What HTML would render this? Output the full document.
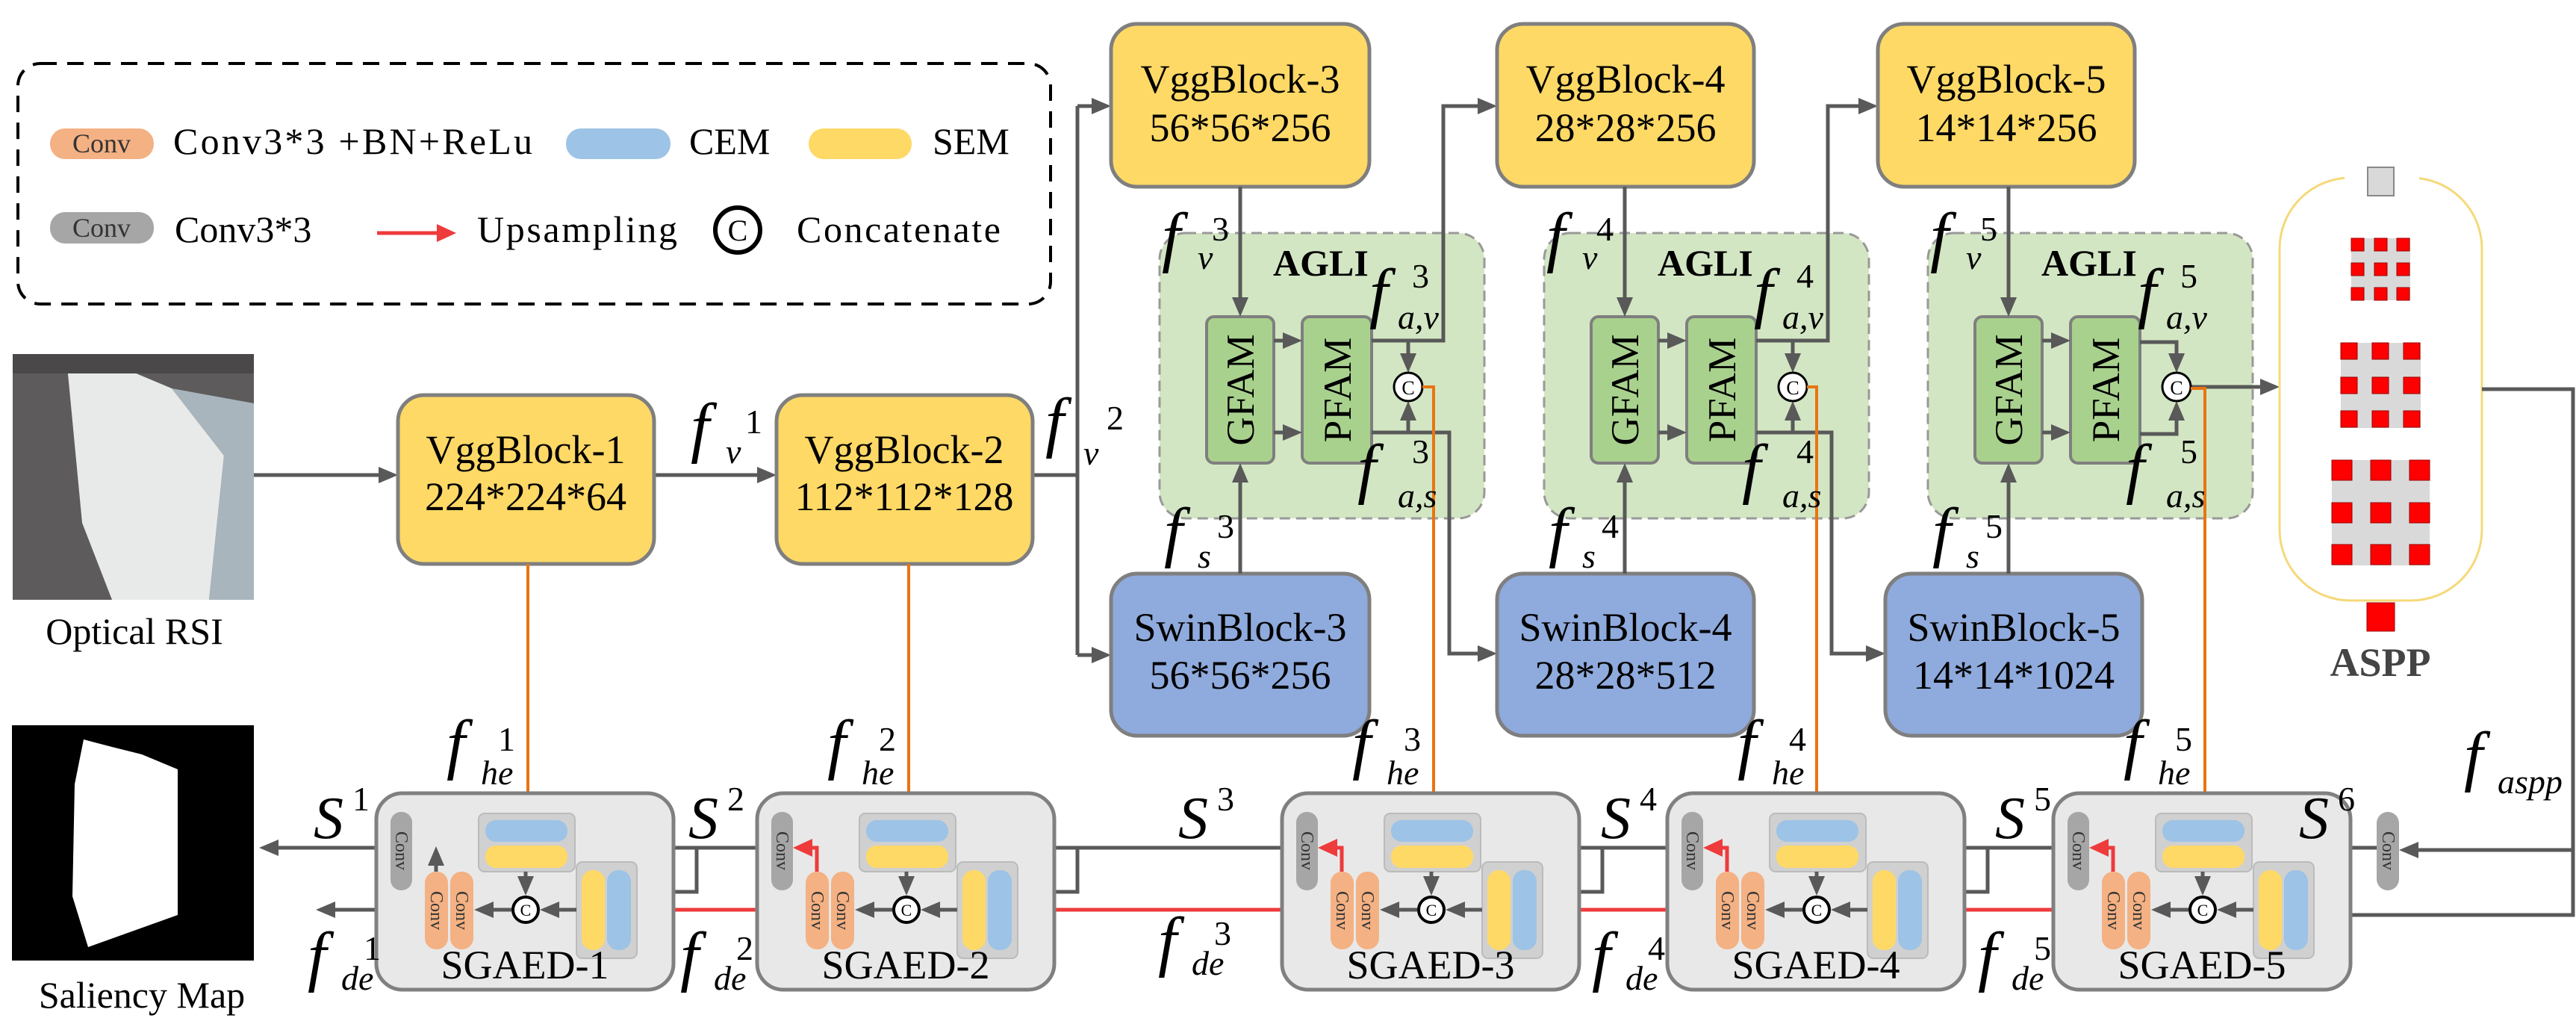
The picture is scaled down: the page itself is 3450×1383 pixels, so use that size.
<!DOCTYPE html>
<html><head><meta charset="utf-8"><style>
html,body{margin:0;padding:0;background:#fff;}
svg{display:block;font-family:"Liberation Serif","DejaVu Serif","Times New Roman",serif;}
text{font-family:"Liberation Serif","DejaVu Serif","Times New Roman",serif;}
.m{font-style:italic;}
</style></head><body>
<svg width="3450" height="1383" viewBox="0 0 3450 1383" xmlns="http://www.w3.org/2000/svg" xmlns:xlink="http://www.w3.org/1999/xlink" font-family="Liberation Serif, DejaVu Serif, serif">
<defs>
<path id="hg" d="M-26,-11 L0,0 L-26,11 Z" fill="#595959"/>
<path id="hr" d="M-26,-12 L0,0 L-26,12 Z" fill="#EE3B3B"/>
<path id="ho" d="M-24,-10 L0,0 L-24,10 Z" fill="#E87511"/>
</defs>

<!-- Legend -->
<rect x="24" y="85" width="1383" height="322" rx="30" fill="none" stroke="#000" stroke-width="4" stroke-dasharray="22,14"/>
<rect x="67" y="172" width="139" height="41" rx="20" fill="#F4B183"/>
<text x="136" y="204" font-size="36" text-anchor="middle" fill="#333">Conv</text>
<text x="232" y="206" font-size="50" textLength="481">Conv3*3 +BN+ReLu</text>
<rect x="758" y="172" width="140" height="41" rx="20" fill="#9DC3E6"/>
<text x="923" y="206" font-size="50">CEM</text>
<rect x="1083" y="172" width="138" height="41" rx="20" fill="#FFD966"/>
<text x="1249" y="206" font-size="50">SEM</text>
<rect x="67" y="284" width="139" height="42" rx="20" fill="#A6A6A6"/>
<text x="136" y="317" font-size="36" text-anchor="middle" fill="#333">Conv</text>
<text x="234" y="324" font-size="50">Conv3*3</text>
<line x1="505" y1="312" x2="595" y2="312" stroke="#EE3B3B" stroke-width="5"/>
<use xlink:href="#hr" href="#hr" transform="translate(611,312)"/>
<text x="639" y="324" font-size="50" textLength="268">Upsampling</text>
<circle cx="988" cy="308" r="30" fill="#fff" stroke="#000" stroke-width="6"/>
<text x="988" y="322" font-size="40" text-anchor="middle">C</text>
<text x="1067" y="324" font-size="50" textLength="273">Concatenate</text>

<!-- Optical RSI -->
<rect x="17" y="474" width="323" height="329" fill="#5d5b5b"/>
<path d="M90,490 L130,478 L230,520 L300,610 L280,803 L150,803 L110,700 Z" fill="#e8eaea"/>
<path d="M230,520 L340,540 L340,803 L280,803 L300,610 Z" fill="#a9b5bd"/>
<path d="M17,474 L340,474 L340,500 L17,500 Z" fill="#4a4848"/>
<text x="180" y="862" font-size="50" text-anchor="middle">Optical RSI</text>

<!-- Saliency map -->
<rect x="16" y="971" width="324" height="315" fill="#000"/>
<path d="M112,990 L150,1000 L190,1010 L238,1030 L238,1225 L118,1268 L97,1200 L100,1050 Z" fill="#fff"/>
<text x="190" y="1349" font-size="50" text-anchor="middle">Saliency Map</text>

<!-- Vgg 1,2 -->
<g stroke="#595959" stroke-width="5" fill="none">
<line x1="340" y1="636" x2="520" y2="636"/>
<line x1="876" y1="636" x2="1027" y2="636"/>
<polyline points="1383,636 1443,636"/>
<line x1="1443" y1="142" x2="1443" y2="877"/>
<line x1="1443" y1="142" x2="1475" y2="142"/>
<line x1="1443" y1="877" x2="1475" y2="877"/>
</g>
<use href="#hg" xlink:href="#hg" transform="translate(533,636)"/>
<use href="#hg" xlink:href="#hg" transform="translate(1040,636)"/>
<use href="#hg" xlink:href="#hg" transform="translate(1488,142)"/>
<use href="#hg" xlink:href="#hg" transform="translate(1488,877)"/>
<rect x="533" y="529" width="343" height="226" rx="35" fill="#FFD966" stroke="#7F7F7F" stroke-width="5"/>
<text x="704" y="620" font-size="54" text-anchor="middle">VggBlock-1</text>
<text x="704" y="683" font-size="54" text-anchor="middle">224*224*64</text>
<rect x="1040" y="529" width="343" height="226" rx="35" fill="#FFD966" stroke="#7F7F7F" stroke-width="5"/>
<text x="1211" y="620" font-size="54" text-anchor="middle">VggBlock-2</text>
<text x="1211" y="683" font-size="54" text-anchor="middle">112*112*128</text>
<line x1="707" y1="755" x2="707" y2="1075" stroke="#E87511" stroke-width="4"/>
<line x1="1217" y1="755" x2="1217" y2="1075" stroke="#E87511" stroke-width="4"/>
<use href="#ho" xlink:href="#ho" transform="translate(707,1089) rotate(90)"/>
<use href="#ho" xlink:href="#ho" transform="translate(1217,1089) rotate(90)"/>
<text class="m" x="925" y="602" font-size="90">f</text><text class="m" x="972" y="620" font-size="46">v</text><text x="998" y="580" font-size="46">1</text>
<text class="m" x="1400" y="595" font-size="90">f</text><text class="m" x="1451" y="622" font-size="46">v</text><text x="1482" y="575" font-size="46">2</text>

<!-- Module 3 -->
<g>
<rect x="1553" y="312" width="435" height="382" rx="35" fill="#D3E6C4" stroke="#999" stroke-width="3" stroke-dasharray="14,8"/>
<rect x="1488" y="32" width="346" height="218" rx="35" fill="#FFD966" stroke="#7F7F7F" stroke-width="5"/>
<rect x="1488" y="768" width="346" height="217" rx="35" fill="#8FAADC" stroke="#7F7F7F" stroke-width="5"/>
<rect x="1616" y="424" width="90" height="196" rx="10" fill="#A9D18E" stroke="#7F7F7F" stroke-width="4"/>
<rect x="1744" y="424" width="93" height="196" rx="10" fill="#A9D18E" stroke="#7F7F7F" stroke-width="4"/>
<text transform="translate(1679,522) rotate(-90)" font-size="53" text-anchor="middle">GFAM</text>
<text transform="translate(1809,522) rotate(-90)" font-size="53" text-anchor="middle">PFAM</text>
<text x="1705" y="369" font-size="50" font-weight="bold">AGLI</text>
<g stroke="#595959" stroke-width="5" fill="none">
<line x1="1661" y1="250" x2="1661" y2="410"/>
<line x1="1661" y1="768" x2="1661" y2="634"/>
<line x1="1706" y1="456" x2="1730" y2="456"/>
<line x1="1706" y1="579" x2="1730" y2="579"/>
<polyline points="1837,456 1886,456 1886,485"/>
<polyline points="1837,579 1886,579 1886,551"/>
<polyline points="1886,456 1933,456 1933,142 1992,142"/>
<polyline points="1886,579 1941,579 1941,875 1992,875"/>
</g>
<use href="#hg" xlink:href="#hg" transform="translate(1661,424) rotate(90)"/>
<use href="#hg" xlink:href="#hg" transform="translate(1661,620) rotate(-90)"/>
<use href="#hg" xlink:href="#hg" transform="translate(1744,456)"/>
<use href="#hg" xlink:href="#hg" transform="translate(1744,579)"/>
<use href="#hg" xlink:href="#hg" transform="translate(1886,499) rotate(90)"/>
<use href="#hg" xlink:href="#hg" transform="translate(1886,537) rotate(-90)"/>
<use href="#hg" xlink:href="#hg" transform="translate(2005,142)"/>
<use href="#hg" xlink:href="#hg" transform="translate(2005,875)"/>
<circle cx="1886" cy="518" r="19" fill="#fff" stroke="#000" stroke-width="3"/>
<text x="1886" y="528" font-size="26" text-anchor="middle">C</text>
<polyline points="1905,518 1920,518 1920,1075" fill="none" stroke="#E87511" stroke-width="4"/>
<use href="#ho" xlink:href="#ho" transform="translate(1920,1089) rotate(90)"/>
<text class="m" x="1556" y="347" font-size="90">f</text><text class="m" x="1604" y="360" font-size="46">v</text><text x="1623" y="322" font-size="46">3</text>
<text class="m" x="1559" y="742" font-size="90">f</text><text class="m" x="1604" y="760" font-size="46">s</text><text x="1630" y="720" font-size="46">3</text>
<text class="m" x="1834" y="422" font-size="90">f</text><text class="m" x="1872" y="440" font-size="46">a,v</text><text x="1891" y="385" font-size="46">3</text>
<text class="m" x="1818" y="657" font-size="90">f</text><text class="m" x="1872" y="679" font-size="46">a,s</text><text x="1891" y="620" font-size="46">3</text>
<text x="1661" y="124" font-size="54" text-anchor="middle">VggBlock-3</text>
<text x="1661" y="189" font-size="54" text-anchor="middle">56*56*256</text>
<text x="1661" y="858" font-size="54" text-anchor="middle">SwinBlock-3</text>
<text x="1661" y="922" font-size="54" text-anchor="middle">56*56*256</text>
</g>

<!-- Module 4 -->
<g transform="translate(515,0)">
<rect x="1553" y="312" width="435" height="382" rx="35" fill="#D3E6C4" stroke="#999" stroke-width="3" stroke-dasharray="14,8"/>
<rect x="1490" y="32" width="344" height="218" rx="35" fill="#FFD966" stroke="#7F7F7F" stroke-width="5"/>
<rect x="1490" y="768" width="344" height="217" rx="35" fill="#8FAADC" stroke="#7F7F7F" stroke-width="5"/>
<rect x="1616" y="424" width="90" height="196" rx="10" fill="#A9D18E" stroke="#7F7F7F" stroke-width="4"/>
<rect x="1744" y="424" width="93" height="196" rx="10" fill="#A9D18E" stroke="#7F7F7F" stroke-width="4"/>
<text transform="translate(1679,522) rotate(-90)" font-size="53" text-anchor="middle">GFAM</text>
<text transform="translate(1809,522) rotate(-90)" font-size="53" text-anchor="middle">PFAM</text>
<text x="1705" y="369" font-size="50" font-weight="bold">AGLI</text>
<g stroke="#595959" stroke-width="5" fill="none">
<line x1="1661" y1="250" x2="1661" y2="410"/>
<line x1="1661" y1="768" x2="1661" y2="634"/>
<line x1="1706" y1="456" x2="1730" y2="456"/>
<line x1="1706" y1="579" x2="1730" y2="579"/>
<polyline points="1837,456 1886,456 1886,485"/>
<polyline points="1837,579 1886,579 1886,551"/>
<polyline points="1886,456 1933,456 1933,142 1987,142"/>
<polyline points="1886,579 1938,579 1938,875 1997,875"/>
</g>
<use href="#hg" xlink:href="#hg" transform="translate(1661,424) rotate(90)"/>
<use href="#hg" xlink:href="#hg" transform="translate(1661,620) rotate(-90)"/>
<use href="#hg" xlink:href="#hg" transform="translate(1744,456)"/>
<use href="#hg" xlink:href="#hg" transform="translate(1744,579)"/>
<use href="#hg" xlink:href="#hg" transform="translate(1886,499) rotate(90)"/>
<use href="#hg" xlink:href="#hg" transform="translate(1886,537) rotate(-90)"/>
<use href="#hg" xlink:href="#hg" transform="translate(2000,142)"/>
<use href="#hg" xlink:href="#hg" transform="translate(2010,875)"/>
<circle cx="1886" cy="518" r="19" fill="#fff" stroke="#000" stroke-width="3"/>
<text x="1886" y="528" font-size="26" text-anchor="middle">C</text>
<polyline points="1905,518 1918,518 1918,1075" fill="none" stroke="#E87511" stroke-width="4"/>
<use href="#ho" xlink:href="#ho" transform="translate(1918,1089) rotate(90)"/>
<text x="1662" y="124" font-size="54" text-anchor="middle">VggBlock-4</text>
<text x="1662" y="189" font-size="54" text-anchor="middle">28*28*256</text>
<text x="1662" y="858" font-size="54" text-anchor="middle">SwinBlock-4</text>
<text x="1662" y="922" font-size="54" text-anchor="middle">28*28*512</text>
<text class="m" x="1556" y="347" font-size="90">f</text><text class="m" x="1604" y="360" font-size="46">v</text><text x="1623" y="322" font-size="46">4</text>
<text class="m" x="1559" y="742" font-size="90">f</text><text class="m" x="1604" y="760" font-size="46">s</text><text x="1630" y="720" font-size="46">4</text>
<text class="m" x="1834" y="422" font-size="90">f</text><text class="m" x="1872" y="440" font-size="46">a,v</text><text x="1891" y="385" font-size="46">4</text>
<text class="m" x="1818" y="657" font-size="90">f</text><text class="m" x="1872" y="679" font-size="46">a,s</text><text x="1891" y="620" font-size="46">4</text>
</g>

<!-- Module 5 -->
<g transform="translate(1029,0)">
<rect x="1553" y="312" width="435" height="382" rx="35" fill="#D3E6C4" stroke="#999" stroke-width="3" stroke-dasharray="14,8"/>
<rect x="1486" y="32" width="344" height="218" rx="35" fill="#FFD966" stroke="#7F7F7F" stroke-width="5"/>
<rect x="1496" y="768" width="344" height="217" rx="35" fill="#8FAADC" stroke="#7F7F7F" stroke-width="5"/>
<rect x="1616" y="424" width="90" height="196" rx="10" fill="#A9D18E" stroke="#7F7F7F" stroke-width="4"/>
<rect x="1744" y="424" width="93" height="196" rx="10" fill="#A9D18E" stroke="#7F7F7F" stroke-width="4"/>
<text transform="translate(1679,522) rotate(-90)" font-size="53" text-anchor="middle">GFAM</text>
<text transform="translate(1809,522) rotate(-90)" font-size="53" text-anchor="middle">PFAM</text>
<text x="1705" y="369" font-size="50" font-weight="bold">AGLI</text>
<g stroke="#595959" stroke-width="5" fill="none">
<line x1="1661" y1="250" x2="1661" y2="410"/>
<line x1="1661" y1="768" x2="1661" y2="634"/>
<line x1="1706" y1="456" x2="1730" y2="456"/>
<line x1="1706" y1="579" x2="1730" y2="579"/>
<polyline points="1837,458 1886,458 1886,485"/>
<polyline points="1837,581 1886,581 1886,551"/>
<line x1="1905" y1="518" x2="2011" y2="518"/>
</g>
<use href="#hg" xlink:href="#hg" transform="translate(1661,424) rotate(90)"/>
<use href="#hg" xlink:href="#hg" transform="translate(1661,620) rotate(-90)"/>
<use href="#hg" xlink:href="#hg" transform="translate(1744,456)"/>
<use href="#hg" xlink:href="#hg" transform="translate(1744,579)"/>
<use href="#hg" xlink:href="#hg" transform="translate(1886,499) rotate(90)"/>
<use href="#hg" xlink:href="#hg" transform="translate(1886,537) rotate(-90)"/>
<use href="#hg" xlink:href="#hg" transform="translate(2024,518)"/>
<circle cx="1886" cy="518" r="19" fill="#fff" stroke="#000" stroke-width="3"/>
<text x="1886" y="528" font-size="26" text-anchor="middle">C</text>
<polyline points="1905,520 1924,520 1924,1075" fill="none" stroke="#E87511" stroke-width="4"/>
<use href="#ho" xlink:href="#ho" transform="translate(1924,1089) rotate(90)"/>
<text x="1658" y="124" font-size="54" text-anchor="middle">VggBlock-5</text>
<text x="1658" y="189" font-size="54" text-anchor="middle">14*14*256</text>
<text x="1668" y="858" font-size="54" text-anchor="middle">SwinBlock-5</text>
<text x="1668" y="922" font-size="54" text-anchor="middle">14*14*1024</text>
<text class="m" x="1556" y="347" font-size="90">f</text><text class="m" x="1604" y="360" font-size="46">v</text><text x="1623" y="322" font-size="46">5</text>
<text class="m" x="1559" y="742" font-size="90">f</text><text class="m" x="1604" y="760" font-size="46">s</text><text x="1630" y="720" font-size="46">5</text>
<text class="m" x="1834" y="422" font-size="90">f</text><text class="m" x="1872" y="440" font-size="46">a,v</text><text x="1891" y="385" font-size="46">5</text>
<text class="m" x="1818" y="657" font-size="90">f</text><text class="m" x="1872" y="679" font-size="46">a,s</text><text x="1891" y="620" font-size="46">5</text>
</g>

<!-- ASPP -->
<rect x="3053" y="238" width="271" height="566" rx="95" fill="none" stroke="#F5D97A" stroke-width="3"/>
<rect x="3140" y="230" width="100" height="16" fill="#fff"/>
<rect x="3171" y="224" width="35" height="38" fill="#D9D9D9" stroke="#888" stroke-width="2"/>
<rect x="3149" y="319" width="79" height="83" fill="#D9D9D9"/>
<g fill="#FF0000" stroke="#900" stroke-width="1">
<rect x="3149" y="319" width="17" height="17"/><rect x="3180" y="319" width="17" height="17"/><rect x="3210" y="319" width="17" height="17"/>
<rect x="3149" y="352" width="17" height="17"/><rect x="3180" y="352" width="17" height="17"/><rect x="3210" y="352" width="17" height="17"/>
<rect x="3149" y="385" width="17" height="17"/><rect x="3180" y="385" width="17" height="17"/><rect x="3210" y="385" width="17" height="17"/>
</g>
<rect x="3135" y="459" width="107" height="114" fill="#D9D9D9"/>
<g fill="#FF0000" stroke="#900" stroke-width="1">
<rect x="3135" y="459" width="22" height="22"/><rect x="3177" y="459" width="22" height="22"/><rect x="3219" y="459" width="22" height="22"/>
<rect x="3135" y="505" width="22" height="22"/><rect x="3177" y="505" width="22" height="22"/><rect x="3219" y="505" width="22" height="22"/>
<rect x="3135" y="550" width="22" height="22"/><rect x="3177" y="550" width="22" height="22"/><rect x="3219" y="550" width="22" height="22"/>
</g>
<rect x="3123" y="616" width="131" height="141" fill="#D9D9D9"/>
<g fill="#FF0000" stroke="#900" stroke-width="1">
<rect x="3123" y="616" width="27" height="27"/><rect x="3175" y="616" width="27" height="27"/><rect x="3227" y="616" width="27" height="27"/>
<rect x="3123" y="673" width="27" height="27"/><rect x="3175" y="673" width="27" height="27"/><rect x="3227" y="673" width="27" height="27"/>
<rect x="3123" y="729" width="27" height="27"/><rect x="3175" y="729" width="27" height="27"/><rect x="3227" y="729" width="27" height="27"/>
</g>
<rect x="3170" y="807" width="37" height="38" fill="#FF0000" stroke="#900" stroke-width="1"/>
<text x="3188" y="905" font-size="54" font-weight="bold" fill="#444" text-anchor="middle">ASPP</text>

<!-- connections bottom -->
<g stroke="#595959" stroke-width="5" fill="none">
<polyline points="3324,521 3446,521 3446,1225 3112,1225"/>
<line x1="3446" y1="1138" x2="3226" y2="1138"/>
<line x1="523" y1="1135" x2="360" y2="1135"/>
<line x1="569" y1="1218" x2="436" y2="1218"/>
<line x1="1033" y1="1135" x2="783" y2="1135"/>
<polyline points="933,1135 933,1194 866,1194"/>
<line x1="1736" y1="1135" x2="1293" y2="1135"/>
<polyline points="1443,1135 1443,1194 1376,1194"/>
<line x1="2252" y1="1135" x2="1996" y2="1135"/>
<polyline points="2146,1135 2146,1194 2079,1194"/>
<line x1="2769" y1="1135" x2="2512" y2="1135"/>
<polyline points="2662,1135 2662,1194 2595,1194"/>
<line x1="3183" y1="1135" x2="3029" y2="1135"/>
<polyline points="3137,1135 3137,1194 3112,1194"/>
</g>
<use href="#hg" xlink:href="#hg" transform="translate(3099,1225) rotate(180)"/>
<use href="#hg" xlink:href="#hg" transform="translate(3213,1138) rotate(180)"/>
<use href="#hg" xlink:href="#hg" transform="translate(347,1135) rotate(180)"/>
<use href="#hg" xlink:href="#hg" transform="translate(423,1218) rotate(180)"/>
<use href="#hg" xlink:href="#hg" transform="translate(770,1135) rotate(180)"/>
<use href="#hg" xlink:href="#hg" transform="translate(853,1194) rotate(180)"/>
<use href="#hg" xlink:href="#hg" transform="translate(1280,1135) rotate(180)"/>
<use href="#hg" xlink:href="#hg" transform="translate(1363,1194) rotate(180)"/>
<use href="#hg" xlink:href="#hg" transform="translate(1983,1135) rotate(180)"/>
<use href="#hg" xlink:href="#hg" transform="translate(2066,1194) rotate(180)"/>
<use href="#hg" xlink:href="#hg" transform="translate(2499,1135) rotate(180)"/>
<use href="#hg" xlink:href="#hg" transform="translate(2582,1194) rotate(180)"/>
<use href="#hg" xlink:href="#hg" transform="translate(3016,1135) rotate(180)"/>
<use href="#hg" xlink:href="#hg" transform="translate(3099,1194) rotate(180)"/>
<g stroke="#EE3B3B" stroke-width="5" fill="none">
<line x1="1079" y1="1218" x2="866" y2="1218"/>
<line x1="1782" y1="1218" x2="1376" y2="1218"/>
<line x1="2298" y1="1218" x2="2079" y2="1218"/>
<line x1="2815" y1="1218" x2="2595" y2="1218"/>
</g>
<use href="#hr" xlink:href="#hr" transform="translate(853,1218) rotate(180)"/>
<use href="#hr" xlink:href="#hr" transform="translate(1363,1218) rotate(180)"/>
<use href="#hr" xlink:href="#hr" transform="translate(2066,1218) rotate(180)"/>
<use href="#hr" xlink:href="#hr" transform="translate(2582,1218) rotate(180)"/>
<rect x="3183" y="1087" width="30" height="105" rx="15" fill="#A6A6A6"/>
<text transform="translate(3191,1139) rotate(90)" font-size="24" text-anchor="middle" fill="#333">Conv</text>

<!-- SGAED blocks -->
<g transform="translate(504,0)">
<rect x="0" y="1062" width="398" height="263" rx="35" fill="#E8E8E8" stroke="#808080" stroke-width="5"/>
<rect x="19" y="1087" width="29" height="105" rx="14" fill="#A6A6A6"/>
<text transform="translate(26,1139) rotate(90)" font-size="24" text-anchor="middle" fill="#333">Conv</text>
<rect x="137" y="1089" width="129" height="78" rx="8" fill="#D0D0D0" stroke="#BBB" stroke-width="2"/>
<rect x="146" y="1098" width="110" height="29" rx="14" fill="#9DC3E6"/>
<rect x="146" y="1132" width="110" height="30" rx="14" fill="#FFD966"/>
<rect x="268" y="1154" width="81" height="129" rx="8" fill="#D0D0D0" stroke="#BBB" stroke-width="2"/>
<rect x="275" y="1165" width="31" height="107" rx="15" fill="#FFD966"/>
<rect x="309" y="1165" width="32" height="107" rx="15" fill="#9DC3E6"/>
<rect x="65" y="1167" width="31" height="104" rx="15" fill="#F4B183"/>
<rect x="99" y="1167" width="31" height="104" rx="15" fill="#F4B183"/>
<text transform="translate(73,1219) rotate(90)" font-size="24" text-anchor="middle" fill="#333">Conv</text>
<text transform="translate(107,1219) rotate(90)" font-size="24" text-anchor="middle" fill="#333">Conv</text>
<g stroke="#595959" stroke-width="5" fill="none">
<line x1="200" y1="1167" x2="200" y2="1186"/>
<line x1="268" y1="1218" x2="232" y2="1218"/>
<line x1="181" y1="1218" x2="144" y2="1218"/>
<line x1="80" y1="1167" x2="80" y2="1146"/>
</g>
<use href="#hg" xlink:href="#hg" transform="translate(200,1199) rotate(90)"/>
<use href="#hg" xlink:href="#hg" transform="translate(219,1218) rotate(180)"/>
<use href="#hg" xlink:href="#hg" transform="translate(131,1218) rotate(180)"/>
<use href="#hg" xlink:href="#hg" transform="translate(80,1133) rotate(-90)"/>
<circle cx="200" cy="1218" r="17" fill="#fff" stroke="#000" stroke-width="4"/>
<text x="200" y="1226" font-size="22" text-anchor="middle">C</text>
<text x="199" y="1310" font-size="54" text-anchor="middle">SGAED-1</text>
</g>

<g transform="translate(1014,0)">
<rect x="0" y="1062" width="398" height="263" rx="35" fill="#E8E8E8" stroke="#808080" stroke-width="5"/>
<rect x="19" y="1087" width="29" height="105" rx="14" fill="#A6A6A6"/>
<text transform="translate(26,1139) rotate(90)" font-size="24" text-anchor="middle" fill="#333">Conv</text>
<rect x="137" y="1089" width="129" height="78" rx="8" fill="#D0D0D0" stroke="#BBB" stroke-width="2"/>
<rect x="146" y="1098" width="110" height="29" rx="14" fill="#9DC3E6"/>
<rect x="146" y="1132" width="110" height="30" rx="14" fill="#FFD966"/>
<rect x="268" y="1154" width="81" height="129" rx="8" fill="#D0D0D0" stroke="#BBB" stroke-width="2"/>
<rect x="275" y="1165" width="31" height="107" rx="15" fill="#FFD966"/>
<rect x="309" y="1165" width="32" height="107" rx="15" fill="#9DC3E6"/>
<rect x="65" y="1167" width="31" height="104" rx="15" fill="#F4B183"/>
<rect x="99" y="1167" width="31" height="104" rx="15" fill="#F4B183"/>
<text transform="translate(73,1219) rotate(90)" font-size="24" text-anchor="middle" fill="#333">Conv</text>
<text transform="translate(107,1219) rotate(90)" font-size="24" text-anchor="middle" fill="#333">Conv</text>
<g stroke="#595959" stroke-width="5" fill="none">
<line x1="200" y1="1167" x2="200" y2="1186"/>
<line x1="268" y1="1218" x2="232" y2="1218"/>
<line x1="181" y1="1218" x2="144" y2="1218"/>
</g>
<use href="#hg" xlink:href="#hg" transform="translate(200,1199) rotate(90)"/>
<use href="#hg" xlink:href="#hg" transform="translate(219,1218) rotate(180)"/>
<use href="#hg" xlink:href="#hg" transform="translate(131,1218) rotate(180)"/>
<polyline points="80,1167 80,1135 61,1135" fill="none" stroke="#EE3B3B" stroke-width="5"/>
<use href="#hr" xlink:href="#hr" transform="translate(48,1135) rotate(180)"/>
<circle cx="200" cy="1218" r="17" fill="#fff" stroke="#000" stroke-width="4"/>
<text x="200" y="1226" font-size="22" text-anchor="middle">C</text>
<text x="199" y="1310" font-size="54" text-anchor="middle">SGAED-2</text>
</g>

<g transform="translate(1717,0)">
<rect x="0" y="1062" width="398" height="263" rx="35" fill="#E8E8E8" stroke="#808080" stroke-width="5"/>
<rect x="19" y="1087" width="29" height="105" rx="14" fill="#A6A6A6"/>
<text transform="translate(26,1139) rotate(90)" font-size="24" text-anchor="middle" fill="#333">Conv</text>
<rect x="137" y="1089" width="129" height="78" rx="8" fill="#D0D0D0" stroke="#BBB" stroke-width="2"/>
<rect x="146" y="1098" width="110" height="29" rx="14" fill="#9DC3E6"/>
<rect x="146" y="1132" width="110" height="30" rx="14" fill="#FFD966"/>
<rect x="268" y="1154" width="81" height="129" rx="8" fill="#D0D0D0" stroke="#BBB" stroke-width="2"/>
<rect x="275" y="1165" width="31" height="107" rx="15" fill="#FFD966"/>
<rect x="309" y="1165" width="32" height="107" rx="15" fill="#9DC3E6"/>
<rect x="65" y="1167" width="31" height="104" rx="15" fill="#F4B183"/>
<rect x="99" y="1167" width="31" height="104" rx="15" fill="#F4B183"/>
<text transform="translate(73,1219) rotate(90)" font-size="24" text-anchor="middle" fill="#333">Conv</text>
<text transform="translate(107,1219) rotate(90)" font-size="24" text-anchor="middle" fill="#333">Conv</text>
<g stroke="#595959" stroke-width="5" fill="none">
<line x1="200" y1="1167" x2="200" y2="1186"/>
<line x1="268" y1="1218" x2="232" y2="1218"/>
<line x1="181" y1="1218" x2="144" y2="1218"/>
</g>
<use href="#hg" xlink:href="#hg" transform="translate(200,1199) rotate(90)"/>
<use href="#hg" xlink:href="#hg" transform="translate(219,1218) rotate(180)"/>
<use href="#hg" xlink:href="#hg" transform="translate(131,1218) rotate(180)"/>
<polyline points="80,1167 80,1135 61,1135" fill="none" stroke="#EE3B3B" stroke-width="5"/>
<use href="#hr" xlink:href="#hr" transform="translate(48,1135) rotate(180)"/>
<circle cx="200" cy="1218" r="17" fill="#fff" stroke="#000" stroke-width="4"/>
<text x="200" y="1226" font-size="22" text-anchor="middle">C</text>
<text x="199" y="1310" font-size="54" text-anchor="middle">SGAED-3</text>
</g>

<g transform="translate(2233,0)">
<rect x="0" y="1062" width="398" height="263" rx="35" fill="#E8E8E8" stroke="#808080" stroke-width="5"/>
<rect x="19" y="1087" width="29" height="105" rx="14" fill="#A6A6A6"/>
<text transform="translate(26,1139) rotate(90)" font-size="24" text-anchor="middle" fill="#333">Conv</text>
<rect x="137" y="1089" width="129" height="78" rx="8" fill="#D0D0D0" stroke="#BBB" stroke-width="2"/>
<rect x="146" y="1098" width="110" height="29" rx="14" fill="#9DC3E6"/>
<rect x="146" y="1132" width="110" height="30" rx="14" fill="#FFD966"/>
<rect x="268" y="1154" width="81" height="129" rx="8" fill="#D0D0D0" stroke="#BBB" stroke-width="2"/>
<rect x="275" y="1165" width="31" height="107" rx="15" fill="#FFD966"/>
<rect x="309" y="1165" width="32" height="107" rx="15" fill="#9DC3E6"/>
<rect x="65" y="1167" width="31" height="104" rx="15" fill="#F4B183"/>
<rect x="99" y="1167" width="31" height="104" rx="15" fill="#F4B183"/>
<text transform="translate(73,1219) rotate(90)" font-size="24" text-anchor="middle" fill="#333">Conv</text>
<text transform="translate(107,1219) rotate(90)" font-size="24" text-anchor="middle" fill="#333">Conv</text>
<g stroke="#595959" stroke-width="5" fill="none">
<line x1="200" y1="1167" x2="200" y2="1186"/>
<line x1="268" y1="1218" x2="232" y2="1218"/>
<line x1="181" y1="1218" x2="144" y2="1218"/>
</g>
<use href="#hg" xlink:href="#hg" transform="translate(200,1199) rotate(90)"/>
<use href="#hg" xlink:href="#hg" transform="translate(219,1218) rotate(180)"/>
<use href="#hg" xlink:href="#hg" transform="translate(131,1218) rotate(180)"/>
<polyline points="80,1167 80,1135 61,1135" fill="none" stroke="#EE3B3B" stroke-width="5"/>
<use href="#hr" xlink:href="#hr" transform="translate(48,1135) rotate(180)"/>
<circle cx="200" cy="1218" r="17" fill="#fff" stroke="#000" stroke-width="4"/>
<text x="200" y="1226" font-size="22" text-anchor="middle">C</text>
<text x="199" y="1310" font-size="54" text-anchor="middle">SGAED-4</text>
</g>

<g transform="translate(2750,0)">
<rect x="0" y="1062" width="398" height="263" rx="35" fill="#E8E8E8" stroke="#808080" stroke-width="5"/>
<rect x="19" y="1087" width="29" height="105" rx="14" fill="#A6A6A6"/>
<text transform="translate(26,1139) rotate(90)" font-size="24" text-anchor="middle" fill="#333">Conv</text>
<rect x="137" y="1089" width="129" height="78" rx="8" fill="#D0D0D0" stroke="#BBB" stroke-width="2"/>
<rect x="146" y="1098" width="110" height="29" rx="14" fill="#9DC3E6"/>
<rect x="146" y="1132" width="110" height="30" rx="14" fill="#FFD966"/>
<rect x="268" y="1154" width="81" height="129" rx="8" fill="#D0D0D0" stroke="#BBB" stroke-width="2"/>
<rect x="275" y="1165" width="31" height="107" rx="15" fill="#FFD966"/>
<rect x="309" y="1165" width="32" height="107" rx="15" fill="#9DC3E6"/>
<rect x="65" y="1167" width="31" height="104" rx="15" fill="#F4B183"/>
<rect x="99" y="1167" width="31" height="104" rx="15" fill="#F4B183"/>
<text transform="translate(73,1219) rotate(90)" font-size="24" text-anchor="middle" fill="#333">Conv</text>
<text transform="translate(107,1219) rotate(90)" font-size="24" text-anchor="middle" fill="#333">Conv</text>
<g stroke="#595959" stroke-width="5" fill="none">
<line x1="200" y1="1167" x2="200" y2="1186"/>
<line x1="268" y1="1218" x2="232" y2="1218"/>
<line x1="181" y1="1218" x2="144" y2="1218"/>
</g>
<use href="#hg" xlink:href="#hg" transform="translate(200,1199) rotate(90)"/>
<use href="#hg" xlink:href="#hg" transform="translate(219,1218) rotate(180)"/>
<use href="#hg" xlink:href="#hg" transform="translate(131,1218) rotate(180)"/>
<polyline points="80,1167 80,1135 61,1135" fill="none" stroke="#EE3B3B" stroke-width="5"/>
<use href="#hr" xlink:href="#hr" transform="translate(48,1135) rotate(180)"/>
<circle cx="200" cy="1218" r="17" fill="#fff" stroke="#000" stroke-width="4"/>
<text x="200" y="1226" font-size="22" text-anchor="middle">C</text>
<text x="199" y="1310" font-size="54" text-anchor="middle">SGAED-5</text>
</g>

<!-- f_he labels -->
<text class="m" x="598" y="1026" font-size="90">f</text><text class="m" x="644" y="1050" font-size="46">he</text><text x="667" y="1005" font-size="46">1</text>
<text class="m" x="1108" y="1026" font-size="90">f</text><text class="m" x="1154" y="1050" font-size="46">he</text><text x="1177" y="1005" font-size="46">2</text>
<text class="m" x="1811" y="1026" font-size="90">f</text><text class="m" x="1857" y="1050" font-size="46">he</text><text x="1880" y="1005" font-size="46">3</text>
<text class="m" x="2327" y="1026" font-size="90">f</text><text class="m" x="2373" y="1050" font-size="46">he</text><text x="2396" y="1005" font-size="46">4</text>
<text class="m" x="2844" y="1026" font-size="90">f</text><text class="m" x="2890" y="1050" font-size="46">he</text><text x="2913" y="1005" font-size="46">5</text>
<!-- S labels -->
<text class="m" x="420" y="1122" font-size="80">S</text><text x="472" y="1085" font-size="46">1</text>
<text class="m" x="922" y="1122" font-size="80">S</text><text x="974" y="1085" font-size="46">2</text>
<text class="m" x="1578" y="1122" font-size="80">S</text><text x="1630" y="1085" font-size="46">3</text>
<text class="m" x="2144" y="1122" font-size="80">S</text><text x="2196" y="1085" font-size="46">4</text>
<text class="m" x="2672" y="1122" font-size="80">S</text><text x="2724" y="1085" font-size="46">5</text>
<text class="m" x="3079" y="1122" font-size="80">S</text><text x="3131" y="1085" font-size="46">6</text>
<!-- f_de labels -->
<text class="m" x="412" y="1310" font-size="90">f</text><text class="m" x="457" y="1325" font-size="46">de</text><text x="487" y="1285" font-size="46">1</text>
<text class="m" x="911" y="1310" font-size="90">f</text><text class="m" x="956" y="1325" font-size="46">de</text><text x="986" y="1285" font-size="46">2</text>
<text class="m" x="1551" y="1290" font-size="90">f</text><text class="m" x="1596" y="1305" font-size="46">de</text><text x="1626" y="1265" font-size="46">3</text>
<text class="m" x="2132" y="1310" font-size="90">f</text><text class="m" x="2177" y="1325" font-size="46">de</text><text x="2207" y="1285" font-size="46">4</text>
<text class="m" x="2649" y="1310" font-size="90">f</text><text class="m" x="2694" y="1325" font-size="46">de</text><text x="2724" y="1285" font-size="46">5</text>
<!-- f_aspp -->
<text class="m" x="3300" y="1042" font-size="90">f</text><text class="m" x="3345" y="1062" font-size="46">aspp</text>
</svg>
</body></html>
